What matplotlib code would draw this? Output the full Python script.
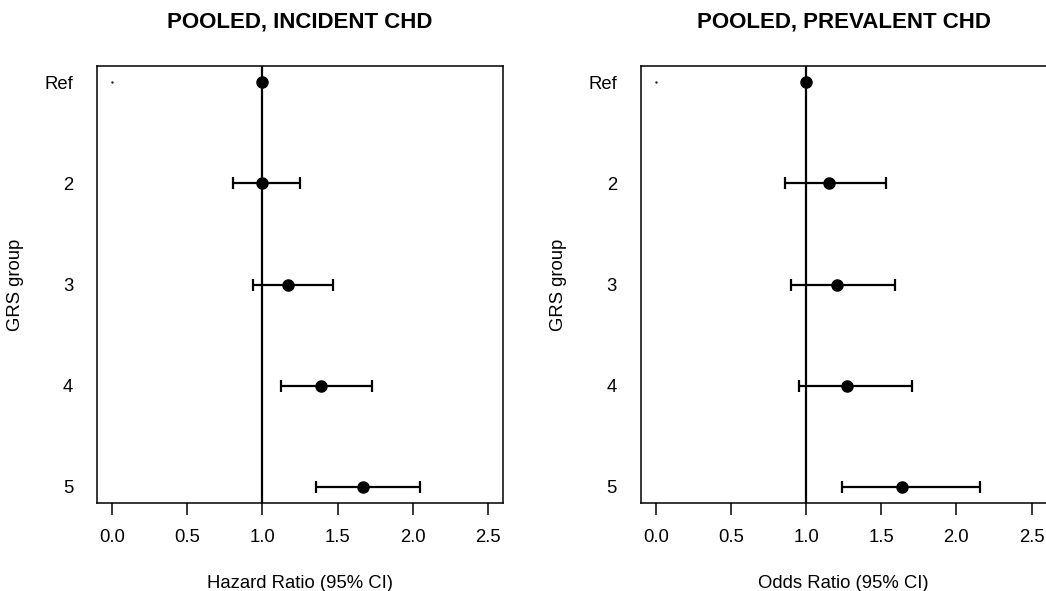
#!/usr/bin/env python3

import matplotlib
import matplotlib.pyplot as plt
import numpy as np

matplotlib.rcParams['font.family'] = ['Liberation Sans', 'DejaVu Sans']

groups = ["Ref", "2", "3", "4", "5"]

# Incident CHD, hazard ratios
hr = [1.0, 1.0, 1.173, 1.391, 1.667]
hr_lo = [np.nan, 0.804, 0.94, 1.122, 1.355]
hr_hi = [np.nan, 1.251, 1.467, 1.727, 2.047]

# Prevalent CHD, odds ratios
odds = [1.0, 1.153, 1.204, 1.271, 1.638]
or_lo = [np.nan, 0.862, 0.902, 0.956, 1.242]
or_hi = [np.nan, 1.533, 1.593, 1.707, 2.158]

titles = ["POOLED, INCIDENT CHD", "POOLED, PREVALENT CHD"]
xlabels = ["Hazard Ratio (95% CI)", "Odds Ratio (95% CI)"]
xticks = [0.0, 0.5, 1.0, 1.5, 2.0, 2.5]

fig = plt.figure(figsize=(10.46, 5.91), dpi=100)
ax1 = fig.add_axes([0.0927, 0.1489, 0.3881, 0.7394])
ax2 = fig.add_axes([0.6125, 0.1489, 0.3881, 0.7394])

panels = [(ax1, hr, hr_lo, hr_hi), (ax2, odds, or_lo, or_hi)]

for i, (ax, est, lo, hi) in enumerate(panels):
  y = np.arange(1, len(groups) + 1)
  est = np.array(est)
  lo = np.array(lo)
  hi = np.array(hi)

  ax.axvline(1.0, color='black', lw=1.6, zorder=1)

  # CI bars (Ref has none)
  m = ~np.isnan(lo)
  ax.errorbar(est[m], y[m],
              xerr=[est[m] - lo[m], hi[m] - est[m]],
              fmt='none', ecolor='black', elinewidth=1.6,
              capsize=4.5, capthick=1.6, zorder=2)
  ax.plot(est, y, 'o', color='black', markersize=8, zorder=3)
  # the stray point R left at x=0 for the reference row
  ax.plot([0.0], [1], '.', color='black', markersize=1.2)

  ax.set_xlim(-0.1, 2.6)
  ax.set_ylim(5.16, 0.84)
  ax.set_xticks(xticks)
  ax.set_xticklabels(['{:.1f}'.format(t) for t in xticks])
  ax.set_yticks(y)
  ax.set_yticklabels(groups)
  ax.tick_params(axis='x', length=8.5, width=1.1, pad=10, labelsize=13.3)
  ax.tick_params(axis='y', length=0, pad=17, labelsize=13.3)
  for s in ax.spines.values():
    s.set_linewidth(1.1)

  ax.set_title(titles[i], fontsize=16, fontweight='bold', pad=28)
  ax.set_xlabel(xlabels[i], fontsize=13.3, labelpad=21)
  ax.set_ylabel('GRS group', fontsize=13.3, labelpad=15)

fig.savefig('out.png', dpi=100)
